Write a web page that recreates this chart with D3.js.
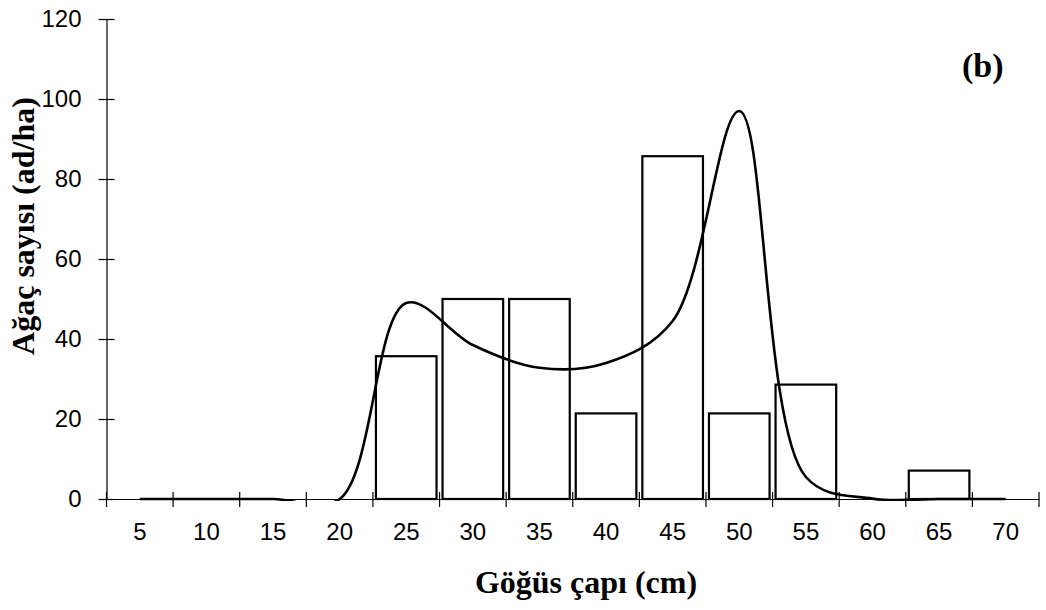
<!DOCTYPE html>
<html><head><meta charset="utf-8">
<script src="https://cdn.jsdelivr.net/npm/d3@7"></script>
<style>body{margin:0;background:#fff}</style>
</head><body>
<svg id="chart" width="1046" height="610"></svg>
<script>
// ---- data ----
const categories = [5, 10, 15, 20, 25, 30, 35, 40, 45, 50, 55, 60, 65, 70];
const barValues   = [0, 0, 0, 0, 35.7, 50, 50, 21.4, 85.7, 21.4, 28.6, 0, 7.1, 0];
const curveValues = [0, 0, 0, 0, 49, 38.5, 32.8, 34, 44.5, 97, 5.5, 0.1, 0, 0];
const yTicks = [0, 20, 40, 60, 80, 100, 120];
const yLabel = "Ağaç sayısı (ad/ha)";
const xLabel = "Göğüs çapı (cm)";
const panelLabel = "(b)";

// ---- layout ----
const svg = d3.select("#chart");
const sans = "'Liberation Sans', Arial, sans-serif";
const serif = "'Liberation Serif', 'Times New Roman', serif";

const x = d3.scaleBand().domain(categories).range([106.5, 1039]).padding(0);
const y = d3.scaleLinear().domain([0, 120]).range([499, 19]);
const bw = x.bandwidth();

// clip for the curve (plot area)
svg.append("defs").append("clipPath").attr("id", "plotclip")
  .append("rect").attr("x", 106.5).attr("y", 10).attr("width", 1039 - 106.5).attr("height", 501 - 10);

// Y axis
const gy = svg.append("g").attr("transform", "translate(106.5,0)")
  .call(d3.axisLeft(y).tickValues(yTicks).tickSizeInner(8).tickSizeOuter(0).tickFormat(d3.format("d")));
gy.select(".domain").attr("stroke", "#000").attr("stroke-width", 1.2);
gy.selectAll(".tick line").attr("x1", 8).attr("x2", -8).attr("stroke", "#000").attr("stroke-width", 1.2);
gy.selectAll(".tick text").attr("x", -25).attr("font-family", sans).attr("font-size", 24).attr("fill", "#000");

// X axis (labels centered in bands, ticks at band boundaries)
const gx = svg.append("g").attr("transform", `translate(0,${y(0)})`)
  .call(d3.axisBottom(x).tickSize(0).tickPadding(24));
gx.select(".domain").attr("stroke", "#000").attr("stroke-width", 1.2);
gx.selectAll(".tick text").attr("font-family", sans).attr("font-size", 24).attr("fill", "#000");
const boundaries = categories.map(c => x(c)).concat([x(categories[categories.length - 1]) + bw]);
gx.append("g").selectAll("line").data(boundaries).join("line")
  .attr("x1", d => d).attr("x2", d => d).attr("y1", -7).attr("y2", 8)
  .attr("stroke", "#000").attr("stroke-width", 1.2);

// bars
const barData = categories.map((c, i) => ({c, v: barValues[i]})).filter(d => d.v > 0);
svg.append("g").selectAll("rect").data(barData).join("rect")
  .attr("x", d => x(d.c) + 3)
  .attr("width", bw - 6)
  .attr("y", d => y(d.v))
  .attr("height", d => y(0) - y(d.v))
  .attr("fill", "#fff").attr("stroke", "#000").attr("stroke-width", 2.2);

// smoothed curve
const curveData = categories.map((c, i) => ({c, v: curveValues[i]}));
const line = d3.line()
  .x(d => x(d.c) + bw / 2)
  .y(d => y(d.v))
  .curve(d3.curveCatmullRom.alpha(0.5));
svg.append("path").datum(curveData)
  .attr("clip-path", "url(#plotclip)")
  .attr("d", line)
  .attr("fill", "none").attr("stroke", "#000").attr("stroke-width", 2.6);

// titles
svg.append("text")
  .attr("transform", "translate(34,226) rotate(-90)")
  .attr("text-anchor", "middle")
  .attr("font-family", serif).attr("font-weight", "bold").attr("font-size", 32)
  .text(yLabel);
svg.append("text")
  .attr("x", 586).attr("y", 593)
  .attr("text-anchor", "middle")
  .attr("font-family", serif).attr("font-weight", "bold").attr("font-size", 32)
  .text(xLabel);
svg.append("text")
  .attr("x", 962).attr("y", 77)
  .attr("font-family", serif).attr("font-weight", "bold").attr("font-size", 34)
  .text(panelLabel);
</script>
</body></html>
